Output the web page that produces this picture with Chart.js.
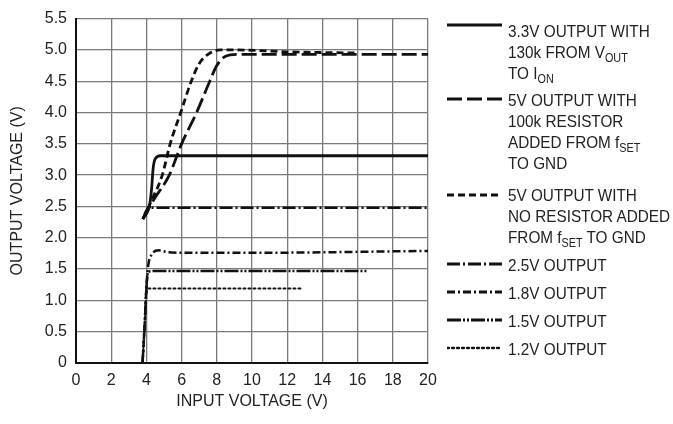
<!DOCTYPE html>
<html>
<head>
<meta charset="utf-8">
<script src="https://cdn.jsdelivr.net/npm/chart.js@4/dist/chart.umd.min.js"></script>
<style>
  html, body { margin: 0; padding: 0; background: #fff; }
  #wrap { position: relative; width: 673px; height: 424px; }
  #legend { position: absolute; left: 0; top: 0; width: 673px; height: 424px; pointer-events: none;
    font-family: "Liberation Sans", Arial, sans-serif; font-size: 17px; color: #222; }
  .item { position: absolute; left: 508px; line-height: 21px; white-space: nowrap;
    transform: scaleX(0.9); transform-origin: 0 0; }
  .item sub { font-size: 12px; vertical-align: -4px; line-height: 0; }
  .sample { position: absolute; left: 447px; }
</style>
</head>
<body>
<div id="wrap">
  <canvas id="chart" width="673" height="424"></canvas>
  <div id="legend"></div>
</div>
<script>
// values
const xTicks = [0, 2, 4, 6, 8, 10, 12, 14, 16, 18, 20];
const yTicks = [0, 0.5, 1.0, 1.5, 2.0, 2.5, 3.0, 3.5, 4.0, 4.5, 5.0, 5.5];

const vin33 = [3.8, 4.2, 4.3, 4.38, 4.5, 4.8, 6, 20];
const vout33 = [2.3, 2.55, 2.8, 3.1, 3.26, 3.31, 3.31, 3.31];

const vin5a = [3.8, 4.4, 5.3, 6.0, 6.85, 7.6, 8.0, 8.5, 9.2, 20];
const vout5a = [2.3, 2.6, 3.0, 3.5, 4.0, 4.5, 4.75, 4.9, 4.93, 4.93];

const vin5b = [3.8, 4.3, 4.9, 5.35, 5.95, 6.55, 7.0, 7.5, 8.2, 9.0, 12, 16];
const vout5b = [2.3, 2.6, 3.0, 3.5, 4.0, 4.5, 4.78, 4.93, 5.0, 5.0, 4.97, 4.95];

const vin25 = [3.8, 4.1, 5, 20];
const vout25 = [2.3, 2.48, 2.48, 2.48];

const vin18 = [3.78, 3.9, 4.0, 4.1, 4.3, 4.7, 5.2, 6, 10, 20];
const vout18 = [0, 0.6, 1.2, 1.55, 1.73, 1.8, 1.77, 1.76, 1.76, 1.79];

const vin15 = [3.78, 3.9, 4.0, 4.1, 4.5, 16.5];
const vout15 = [0, 0.6, 1.2, 1.46, 1.47, 1.47];

const vin12 = [3.78, 3.9, 4.0, 4.15, 12.9];
const vout12 = [0, 0.6, 1.1, 1.19, 1.19];

const labels = [
  ['3.3V OUTPUT WITH', '130k FROM V<sub>OUT</sub>', 'TO I<sub>ON</sub>'],
  ['5V OUTPUT WITH', '100k RESISTOR', 'ADDED FROM f<sub>SET</sub>', 'TO GND'],
  ['5V OUTPUT WITH', 'NO RESISTOR ADDED', 'FROM f<sub>SET</sub> TO GND'],
  ['2.5V OUTPUT'],
  ['1.8V OUTPUT'],
  ['1.5V OUTPUT'],
  ['1.2V OUTPUT']
];

// styles
const dashes = [[], [15, 5], [7, 4], [13, 3, 2, 3], [8, 3, 2, 3], [14, 2, 2, 2, 2, 2], [2, 3]];
const widths = [2.8, 2.8, 2.8, 2.5, 2.5, 2.5, 2];
const legendTop = [21, 90, 185, 255, 283, 311, 339];
const sampleY = [25, 99, 195, 264, 292, 320, 348];

function pts(xs, ys) {
  return xs.map(function (x, i) { return { x: x, y: ys[i] }; });
}
const series = [
  pts(vin33, vout33), pts(vin5a, vout5a), pts(vin5b, vout5b), pts(vin25, vout25),
  pts(vin18, vout18), pts(vin15, vout15), pts(vin12, vout12)
];

Chart.defaults.font.family = '"Liberation Sans", Arial, sans-serif';
Chart.defaults.color = '#222';

new Chart('chart', {
  type: 'line',
  data: {
    datasets: series.map(function (d, i) {
      return {
        data: d,
        borderColor: '#111',
        borderWidth: widths[i],
        borderDash: dashes[i],
        borderCapStyle: i == 6 ? 'round' : 'butt',
        pointRadius: 0,
        fill: false,
        cubicInterpolationMode: 'monotone'
      };
    })
  },
  options: {
    responsive: false,
    animation: false,
    layout: { padding: { left: 0, top: 13, right: 245, bottom: 0 } },
    plugins: { legend: { display: false }, tooltip: { enabled: false } },
    scales: {
      x: {
        type: 'linear', min: 0, max: 20,
        afterFit: function (s) { s.height = 61; },
        afterBuildTicks: function (s) { s.ticks = xTicks.map(function (v) { return { value: v }; }); },
        ticks: { padding: 8, font: { size: 16 }, color: '#222' },
        grid: { color: '#7a7a7a', lineWidth: 1.3, drawTicks: false },
        border: { color: '#111', width: 2 },
        title: { display: true, text: 'INPUT VOLTAGE (V)', font: { size: 16 }, padding: { top: 4, bottom: 13 } }
      },
      y: {
        type: 'linear', min: 0, max: 5.5,
        afterFit: function (s) { s.width = 76; },
        afterBuildTicks: function (s) { s.ticks = yTicks.map(function (v) { return { value: v }; }); },
        ticks: {
          padding: 9, font: { size: 16 }, color: '#222',
          callback: function (v) { return v == 0 ? '0' : v.toFixed(1); }
        },
        grid: { color: '#7a7a7a', lineWidth: 1.3, drawTicks: false },
        border: { color: '#111', width: 2 },
        title: { display: true, text: 'OUTPUT VOLTAGE (V)', font: { size: 16 }, padding: { top: 8, bottom: 0 } }
      }
    }
  }
});

// legend with subscripts, samples use the same dash styles
const leg = document.getElementById('legend');
labels.forEach(function (lines, i) {
  const item = document.createElement('div');
  item.className = 'item';
  item.style.top = legendTop[i] + 'px';
  item.innerHTML = lines.join('<br>');
  leg.appendChild(item);

  const c = document.createElement('canvas');
  c.width = 56; c.height = 8;
  c.className = 'sample';
  c.style.top = (sampleY[i] - 4) + 'px';
  const ctx = c.getContext('2d');
  ctx.strokeStyle = '#111';
  ctx.lineWidth = widths[i] + 0.3;
  ctx.setLineDash(dashes[i]);
  ctx.lineCap = i == 6 ? 'round' : 'butt';
  ctx.beginPath();
  ctx.moveTo(0, 4);
  ctx.lineTo(55, 4);
  ctx.stroke();
  leg.appendChild(c);
});
</script>
</body>
</html>
